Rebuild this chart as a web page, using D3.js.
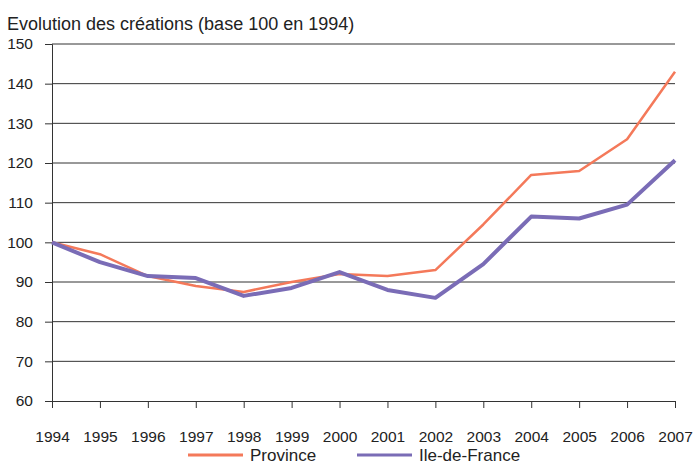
<html>
<head>
  <script src="https://d3js.org/d3.v7.min.js"></script>
</head>
<style>
  body { margin: 0; background: white; }
  text { font-family: "Liberation Sans", Arial, sans-serif; fill: #222; }
</style>
<body>
  <svg id="chart" width="693" height="465"></svg>
  <script>
    const years = [1994, 1995, 1996, 1997, 1998, 1999, 2000, 2001, 2002, 2003, 2004, 2005, 2006, 2007];
    const province = [100, 97, 91.5, 89, 87.5, 90, 92, 91.5, 93, 104.5, 117, 118, 126, 143];
    const ileDeFrance = [100, 95, 91.5, 91, 86.5, 88.5, 92.5, 88, 86, 94.5, 106.5, 106, 109.5, 120.7];
    const yTicks = [60, 70, 80, 90, 100, 110, 120, 130, 140, 150];

    const svg = d3.select("svg#chart");
    const margin = { top: 44, left: 52, right: 18, bottom: 64 };
    const width = +svg.attr("width");
    const height = +svg.attr("height");

    const x = d3.scaleLinear().domain([1994, 2007]).range([margin.left, width - margin.right]);
    const y = d3.scaleLinear().domain([60, 150]).range([height - margin.bottom, margin.top]);

    // title
    svg.append("text")
      .attr("x", 7).attr("y", 30)
      .style("font-size", "18px")
      .text("Evolution des créations (base 100 en 1994)");

    // gridlines
    svg.append("g")
      .selectAll("line")
      .data(yTicks.filter(d => d > 60))
      .join("line")
      .attr("x1", margin.left).attr("x2", width - margin.right)
      .attr("y1", d => y(d)).attr("y2", d => y(d))
      .attr("stroke", "#333").attr("stroke-width", 1);

    // y axis
    const yAxis = svg.append("g")
      .attr("transform", `translate(${margin.left},0)`)
      .call(d3.axisLeft(y).tickValues(yTicks).tickSize(7).tickPadding(12));
    yAxis.select(".domain").attr("stroke", "#333");
    yAxis.selectAll(".tick line").attr("stroke", "#333");
    yAxis.selectAll("text").style("font-size", "15.5px").attr("fill", "#222");

    // x axis
    const xAxis = svg.append("g")
      .attr("transform", `translate(0,${y(60)})`)
      .call(d3.axisBottom(x).tickValues(years).tickFormat(d3.format("d")).tickSize(7).tickPadding(23));
    xAxis.select(".domain").attr("stroke", "#333");
    xAxis.selectAll(".tick line").attr("stroke", "#333");
    xAxis.selectAll("text").style("font-size", "15.5px").attr("fill", "#222");

    const lineGen = d3.line()
      .x((d, i) => x(years[i]))
      .y(d => y(d));

    const series = [
      { name: "Province", values: province, color: "#f4795a", width: 2.5 },
      { name: "Ile-de-France", values: ileDeFrance, color: "#7a6cb6", width: 4 }
    ];

    series.forEach(s => {
      svg.append("path")
        .datum(s.values)
        .attr("d", lineGen)
        .attr("fill", "none")
        .attr("stroke", s.color)
        .attr("stroke-width", s.width)
        .attr("stroke-linejoin", "round");
    });

    // legend
    const legendX = [188, 357];
    const legend = svg.append("g");
    series.forEach((s, i) => {
      legend.append("line")
        .attr("x1", legendX[i]).attr("x2", legendX[i] + 55)
        .attr("y1", 455).attr("y2", 455)
        .attr("stroke", s.color).attr("stroke-width", 3);
      legend.append("text")
        .attr("x", legendX[i] + 62).attr("y", 461)
        .style("font-size", "17px")
        .text(s.name);
    });
  </script>
</body>
</html>
